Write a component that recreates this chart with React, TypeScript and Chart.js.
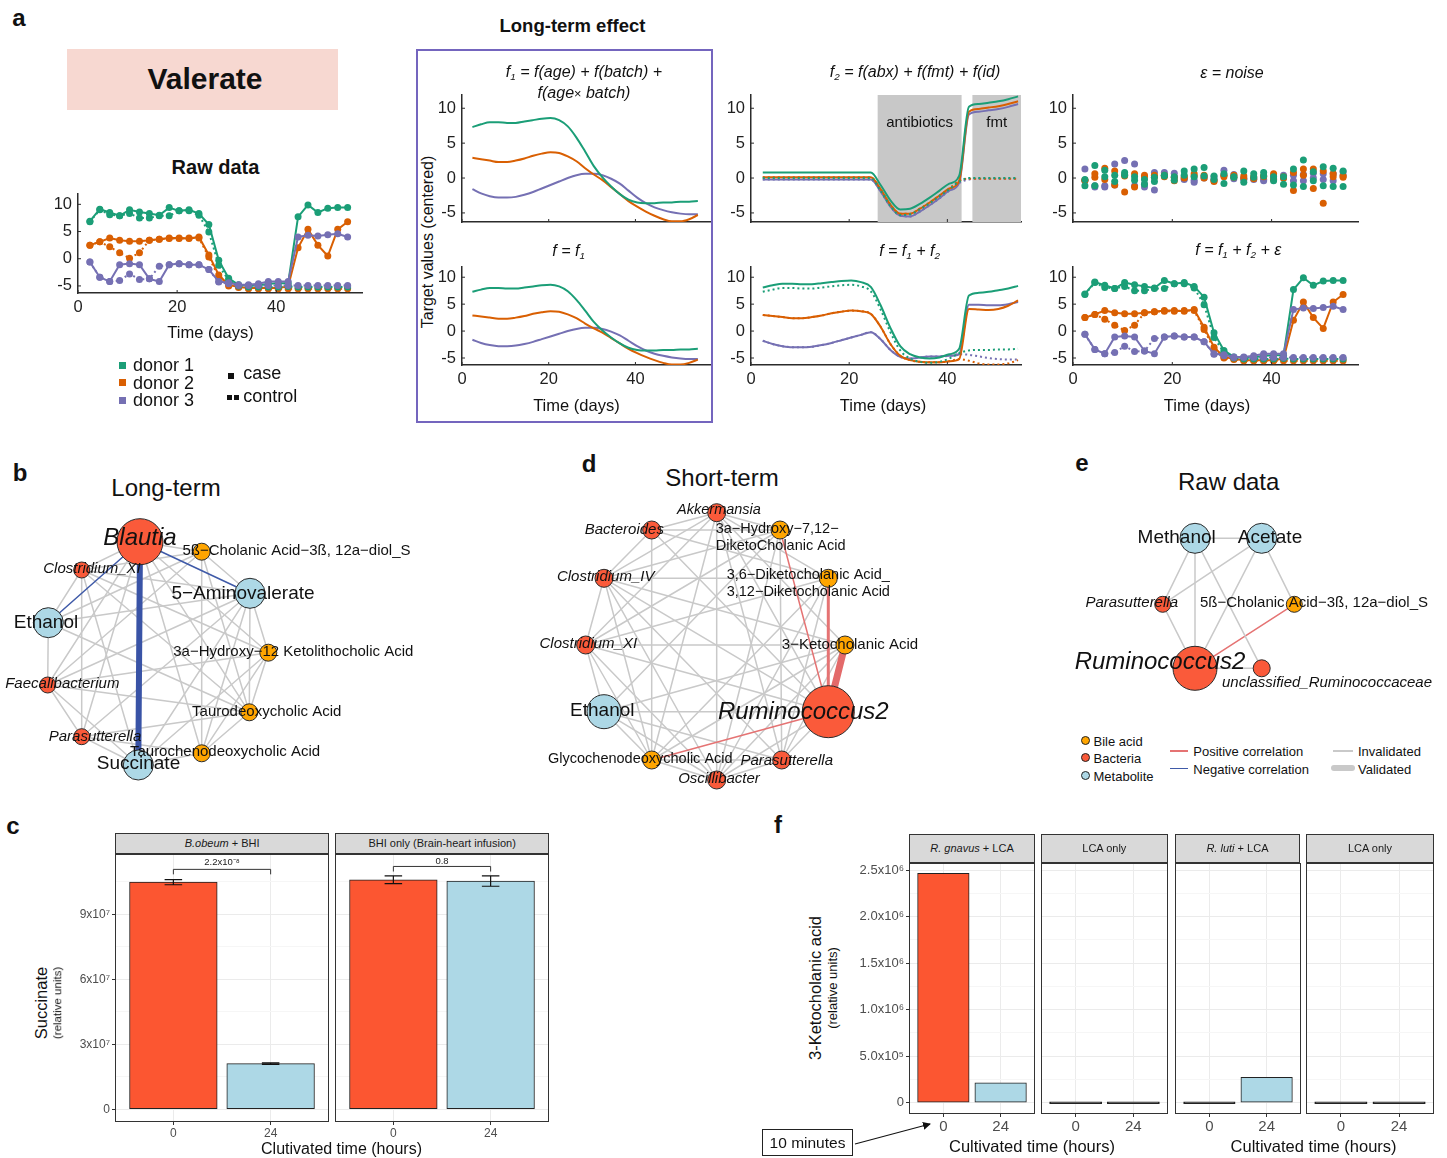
import React, { useEffect, useRef } from "react";
import { Chart, registerables } from "chart.js";

Chart.register(...registerables);

const FONT = "'Liberation Sans', Arial, Helvetica, sans-serif";
Chart.defaults.font.family = FONT;

const GREEN = "#1b9e77";
const ORANGE = "#d95f02";
const PURPLE = "#7570b3";
const DONOR_COLORS = [GREEN, ORANGE, PURPLE];
const BAR_RED = "#fc5631";
const BAR_BLUE = "#add8e6";
const NODE_COLORS: any = { bact: "#fa5a3a", bile: "#ffa500", met: "#add8e6" };
const AXIS_COLOR = "#2b2b2b";
const TICK_COLOR = "#1f1f1f";

// ================= Panel a data =================
const DAYS = [2.4, 4.4, 6.4, 8.4, 10.4, 12.4, 14.4, 16.4, 18.4, 20.4, 22.4, 24.4, 26.4, 28.4, 30.4, 32.4, 34.4, 36.4, 38.4, 40.4, 42.4, 44.4, 46.4, 48.4, 50.4, 52.4, 54.4];
const DAY_TICKS = [0, 20, 40];
const VALUE_TICKS = [-5, 0, 5, 10];
const VALUE_MIN = -6.3;
const VALUE_MAX = 11.9;
const DONORS = ["donor 1", "donor 2", "donor 3"];

// raw data (= f1 + f2 + noise)
const RAW_CASE_1 = [6.9, 9.1, 8.5, 7.9, 9.0, 8.6, 8.3, 8.0, 9.4, 8.8, 9.0, 8.3, 6.3, -0.3, -3.6, -4.8, -4.9, -4.9, -4.6, -4.5, -4.5, 7.7, 9.9, 8.5, 9.3, 9.4, 9.4];
const RAW_CTRL_1 = [6.8, 9.0, 8.1, 7.9, 8.3, 7.5, 7.5, 7.9, 7.9, 8.8, 8.8, 8.0, 4.9, -1.2, -4.0, -5.0, -5.2, -5.2, -5.2, -5.2, -5.1, -5.2, -5.2, -5.2, -5.2, -5.2, -5.2];
const RAW_CASE_2 = [2.5, 3.1, 3.8, 3.4, 3.2, 3.2, 3.4, 3.6, 3.8, 3.8, 3.7, 4.0, 0.7, -3.0, -4.8, -5.2, -5.4, -5.4, -5.4, -5.4, -5.1, 2.0, 5.4, 2.5, 0.5, 5.4, 6.8];
const RAW_CTRL_2 = [2.5, 3.1, 2.2, 1.1, 0.1, 1.1, 3.4, 3.6, 3.7, 3.7, 3.8, 3.8, 0.3, -3.4, -5.0, -5.3, -5.5, -5.5, -5.5, -5.5, -5.5, -5.5, -5.5, -5.5, -5.5, -5.5, -5.5];
const RAW_CASE_3 = [-0.6, -3.4, -4.2, -1.1, -0.9, -1.1, -3.7, -4.2, -1.1, -0.9, -1.1, -1.1, -2.0, -4.2, -4.4, -4.8, -4.8, -4.6, -4.2, -4.2, -4.2, 4.0, 4.3, 4.2, 4.4, 4.6, 4.0];
const RAW_CTRL_3 = [-0.6, -3.4, -4.2, -4.0, -2.8, -3.8, -3.7, -1.4, -1.1, -0.9, -1.1, -1.1, -2.0, -4.3, -4.6, -4.9, -4.9, -4.9, -4.9, -4.9, -4.9, -4.9, -4.9, -4.9, -4.9, -4.9, -4.9];

// f1 = f(age) + f(batch) + f(age x batch)
const F1_1 = [7.3, 7.7, 8.0, 8.0, 7.9, 7.9, 8.1, 8.3, 8.5, 8.6, 8.3, 7.4, 5.8, 3.8, 1.7, 0.1, -1.2, -2.3, -3.1, -3.5, -3.6, -3.6, -3.5, -3.5, -3.4, -3.4, -3.3];
const F1_2 = [2.9, 2.7, 2.5, 2.3, 2.3, 2.5, 2.8, 3.2, 3.5, 3.7, 3.6, 3.1, 2.4, 1.4, 0.5, -0.3, -1.3, -2.3, -3.3, -4.1, -4.8, -5.4, -5.9, -6.2, -6.2, -5.9, -5.3];
const F1_3 = [-1.6, -2.2, -2.6, -2.8, -2.8, -2.7, -2.4, -2.0, -1.5, -1.0, -0.5, 0.0, 0.4, 0.6, 0.6, 0.4, -0.1, -0.8, -1.8, -2.8, -3.6, -4.2, -4.6, -4.9, -5.1, -5.2, -5.2];

// f2 = f(abx) + f(fmt) + f(id)
const F2_CASE_1 = [0.8, 0.8, 0.8, 0.8, 0.8, 0.8, 0.8, 0.8, 0.8, 0.8, 0.8, 0.8, -1.0, -3.2, -4.5, -4.4, -3.7, -2.8, -1.8, -0.8, 0.3, 10.2, 10.6, 10.8, 11.0, 11.3, 11.7];
const F2_CTRL_1 = [0.0, 0.0, 0.0, 0.0, 0.0, 0.0, 0.0, 0.0, 0.0, 0.0, 0.0, 0.0, -1.8, -4.0, -5.3, -5.2, -4.5, -3.6, -2.6, -1.6, -0.5, 0.0, 0.0, 0.0, 0.0, 0.0, 0.0];
const F2_CASE_2 = [0.1, 0.1, 0.1, 0.1, 0.1, 0.1, 0.1, 0.1, 0.1, 0.1, 0.1, 0.1, -1.6, -3.8, -5.1, -5.1, -4.4, -3.5, -2.5, -1.5, -0.4, 9.5, 9.9, 10.1, 10.3, 10.6, 11.0];
const F2_CTRL_2 = [0.1, 0.1, 0.1, 0.1, 0.1, 0.1, 0.1, 0.1, 0.1, 0.1, 0.1, 0.1, -1.6, -3.8, -5.1, -5.1, -4.4, -3.5, -2.5, -1.5, -0.4, -0.1, -0.1, -0.1, -0.1, -0.1, -0.1];
const F2_CASE_3 = [-0.2, -0.2, -0.2, -0.2, -0.2, -0.2, -0.2, -0.2, -0.2, -0.2, -0.2, -0.2, -1.9, -4.1, -5.4, -5.5, -4.8, -3.9, -2.9, -1.8, -0.7, 9.1, 9.5, 9.7, 9.9, 10.2, 10.6];
const F2_CTRL_3 = [-0.2, -0.2, -0.2, -0.2, -0.2, -0.2, -0.2, -0.2, -0.2, -0.2, -0.2, -0.2, -1.9, -4.1, -5.4, -5.5, -4.8, -3.9, -2.9, -1.8, -0.7, -0.2, -0.1, -0.1, -0.1, -0.1, -0.1];
const ANTIBIOTICS_DAYS = [25.8, 42.9];
const FMT_DAYS = [45.1, 55];

// f = f1 + f2
const F12_CASE_1 = [8.1, 8.5, 8.8, 8.8, 8.7, 8.7, 8.9, 9.1, 9.3, 9.4, 9.1, 8.2, 4.8, 0.6, -2.8, -4.3, -4.9, -5.1, -4.9, -4.3, -3.3, 6.6, 7.1, 7.3, 7.6, 7.9, 8.4];
const F12_CTRL_1 = [7.3, 7.7, 8.0, 8.0, 7.9, 7.9, 8.1, 8.3, 8.5, 8.6, 8.3, 7.4, 4.0, -0.2, -3.6, -5.1, -5.7, -5.9, -5.7, -5.1, -4.1, -3.6, -3.5, -3.5, -3.4, -3.4, -3.3];
const F12_CASE_2 = [3.0, 2.8, 2.6, 2.4, 2.4, 2.6, 2.9, 3.3, 3.6, 3.8, 3.7, 3.2, 0.8, -2.4, -4.6, -5.4, -5.7, -5.8, -5.8, -5.6, -5.2, 4.1, 4.0, 3.9, 4.1, 4.7, 5.7];
const F12_CTRL_2 = [3.0, 2.8, 2.6, 2.4, 2.4, 2.6, 2.9, 3.3, 3.6, 3.8, 3.7, 3.2, 0.8, -2.4, -4.6, -5.4, -5.7, -5.8, -5.8, -5.6, -5.2, -5.5, -6.0, -6.2, -6.2, -6.0, -5.4];
const F12_CASE_3 = [-1.8, -2.4, -2.8, -3.0, -3.0, -2.9, -2.6, -2.2, -1.7, -1.2, -0.7, -0.2, -1.5, -3.5, -4.8, -5.1, -4.9, -4.7, -4.7, -4.6, -4.3, 4.9, 4.9, 4.8, 4.8, 5.0, 5.4];
const F12_CTRL_3 = [-1.8, -2.4, -2.8, -3.0, -3.0, -2.9, -2.6, -2.2, -1.7, -1.2, -0.7, -0.2, -1.5, -3.5, -4.8, -5.1, -4.9, -4.7, -4.7, -4.6, -4.3, -4.4, -4.7, -5.0, -5.2, -5.3, -5.3];

// noise
const NOISE_CASE_1 = [-0.2, 1.8, 1.1, 0.4, 0.8, 0.2, -0.2, -0.5, 0.4, 0.2, 1.0, 1.3, 1.5, 0.3, -0.8, 0.1, 1.0, 0.6, 0.8, -0.4, -0.9, 1.3, 2.6, -0.4, 1.6, 1.4, 1.0];
const NOISE_CTRL_1 = [-1.1, -1.1, 0.2, -0.5, 0.4, -0.3, -0.9, 0.1, 0.3, -0.3, 0.4, 0.2, 0.3, -0.2, 0.6, 0.2, -0.6, 0.1, 0.3, 0.2, 0.2, -1.0, -1.2, 0.9, -1.1, -1.2, -1.2];
const NOISE_CASE_2 = [-0.3, 0.6, 1.4, 1.0, 0.3, 0.6, 0.4, 0.4, 0.2, -0.4, 0.0, 0.6, 0.4, -0.5, 0.2, 0.4, 0.3, 0.2, 0.3, 0.6, 0.2, 0.8, 1.3, 1.3, 1.0, 0.6, 0.1];
const NOISE_CTRL_2 = [-0.3, 0.1, -0.2, -1.0, -2.0, -1.3, 0.2, 0.1, 0.4, 0.1, 0.2, 0.3, 0.0, -0.4, 0.4, 0.1, 0.0, -0.1, 0.2, -0.2, 0.0, -1.8, 0.4, -1.5, -3.6, 0.2, 0.3];
const NOISE_CASE_3 = [1.3, -1.1, -1.1, 2.0, 2.5, 2.0, -0.9, 0.8, 0.8, 0.7, -0.1, -0.6, 0.0, 0.2, 1.1, 0.5, -0.1, -0.1, -0.4, 0.3, 0.4, 0.4, 0.5, 0.7, 0.6, -0.4, 0.9];
const NOISE_CTRL_3 = [-0.4, -1.3, -1.3, -1.0, 0.5, -1.1, -1.3, -1.7, 0.4, 0.1, -0.2, -0.3, 0.2, -0.2, 0.4, -0.1, -0.2, -0.2, -0.2, -0.1, 0.0, -0.4, -0.4, 0.0, -0.2, 0.6, 0.4];

// ================= Networks (b, d, e) =================
const B_NAMES = ["Blautia", "5ß−Cholanic Acid−3ß, 12a−diol_S", "Clostridium_XI", "5−Aminovalerate", "Ethanol", "3a−Hydroxy−12 Ketolithocholic Acid", "Faecalibacterium", "Taurodeoxycholic Acid", "Parasutterella", "Taurochenodeoxycholic Acid", "Succinate"];
const B_TYPES = ["bact", "bile", "bact", "met", "met", "bile", "bact", "bile", "bact", "bile", "met"];
const B_EDGES: any[] = [
  [0, 10, "nv"], [0, 4, "n"], [0, 3, "n"],
  [0, 2, "g"], [0, 1, "g"], [0, 5, "g"], [0, 7, "g"], [0, 6, "g"], [0, 8, "g"], [0, 9, "g"],
  [2, 4, "g"], [2, 3, "g"], [2, 5, "g"], [2, 7, "g"], [2, 8, "g"], [2, 10, "g"], [2, 1, "g"],
  [1, 3, "g"], [1, 6, "g"], [1, 7, "g"], [1, 9, "g"], [1, 4, "g"],
  [4, 6, "g"], [4, 3, "g"], [4, 7, "g"],
  [3, 6, "g"], [3, 7, "g"], [3, 5, "g"], [3, 8, "g"], [3, 9, "g"], [3, 10, "g"],
  [5, 6, "g"], [5, 7, "g"], [5, 10, "g"], [5, 9, "g"],
  [6, 8, "g"], [6, 10, "g"], [6, 7, "g"],
  [7, 9, "g"], [7, 8, "g"], [8, 10, "g"], [9, 10, "g"], [8, 9, "g"],
];
// layout: node x, node y, radius, label x, label y, font size, align
const B_LAYOUT: any[] = [
  [140, 541.7, 23, 140, 538, 24], [201.7, 551.7, 8.5, 296.5, 551, 15], [81.7, 570, 8, 92, 569, 15],
  [250, 593.3, 15, 243, 594, 19], [48.3, 622.7, 15, 46, 623, 19], [268.3, 652.7, 8.5, 293.3, 652, 15],
  [47.7, 685, 8, 62.3, 684, 15], [249.3, 712.3, 8.5, 266.7, 712, 15], [81.7, 736.7, 8, 95, 737, 15],
  [201.7, 753.3, 8.5, 225, 752, 15], [138.3, 765, 15, 138.5, 764, 19],
];

const D_NAMES = ["Akkermansia", "Bacteroides", "3a−Hydroxy−7,12−\nDiketoCholanic Acid", "Clostridium_IV", "3,6−Diketocholanic Acid_\n3,12−Diketocholanic Acid", "Clostridium_XI", "3−Ketocholanic Acid", "Ethanol", "Ruminococcus2", "Glycochenodeoxycholic Acid", "Parasutterella", "Oscillibacter"];
const D_TYPES = ["bact", "bact", "bile", "bact", "bile", "bact", "bile", "met", "bact", "bile", "bact", "bact"];
const D_EDGES: any[] = [
  [8, 6, "pv"], [8, 4, "pm"], [8, 2, "p"], [8, 9, "p"],
  [0, 1, "g"], [0, 2, "g"], [0, 3, "g"], [0, 4, "g"], [0, 5, "g"], [0, 8, "g"], [0, 9, "g"], [0, 10, "g"], [0, 11, "g"], [0, 6, "g"],
  [1, 2, "g"], [1, 3, "g"], [1, 4, "g"], [1, 8, "g"], [1, 9, "g"],
  [2, 3, "g"], [2, 5, "g"], [2, 10, "g"], [2, 11, "g"], [2, 7, "g"],
  [3, 4, "g"], [3, 5, "g"], [3, 6, "g"], [3, 8, "g"], [3, 9, "g"], [3, 11, "g"], [3, 10, "g"],
  [4, 5, "g"], [4, 10, "g"], [4, 11, "g"], [4, 9, "g"],
  [5, 6, "g"], [5, 7, "g"], [5, 9, "g"], [5, 8, "g"], [5, 11, "g"],
  [6, 7, "g"], [6, 9, "g"], [6, 10, "g"], [6, 11, "g"],
  [7, 8, "g"], [7, 9, "g"], [7, 11, "g"], [7, 10, "g"],
  [8, 10, "g"], [8, 11, "g"], [9, 11, "g"], [9, 10, "g"], [10, 11, "g"],
];
const D_LAYOUT: any[] = [
  [716.7, 512.7, 9, 719, 510, 14.5], [651.7, 530, 9, 624.3, 530, 15], [780, 530, 9, 715.7, 529, 14.5, "l"],
  [604, 578.3, 9, 605.7, 577, 15], [828.3, 578.3, 9, 726.7, 575, 14.5, "l"], [585.7, 645, 9, 588.3, 644, 15],
  [845, 645, 9, 850, 645, 15], [604, 711.7, 17, 602.3, 711, 19], [828.3, 711.7, 26, 803.3, 712, 24],
  [651.7, 760, 9, 640.3, 759, 14.5], [781.7, 760, 9, 786.7, 761, 15], [716.7, 780, 9, 719, 779, 15],
];

const E_NAMES = ["Methanol", "Acetate", "Parasutterella", "5ß−Cholanic Acid−3ß, 12a−diol_S", "Ruminococcus2", "unclassified_Ruminococcaceae"];
const E_TYPES = ["met", "met", "bact", "bile", "bact", "bact"];
const E_EDGES: any[] = [
  [0, 1, "g"], [0, 2, "g"], [0, 4, "g"], [0, 5, "g"], [1, 2, "g"], [1, 4, "g"], [1, 3, "g"], [2, 4, "g"], [4, 5, "g"], [4, 3, "p"],
];
const E_LAYOUT: any[] = [
  [1195, 538.3, 15, 1176.7, 538, 19], [1261.7, 538.3, 15, 1270, 538, 19], [1162.7, 604.3, 8, 1131.7, 603, 15],
  [1294.3, 604.3, 8, 1314, 603, 15], [1195, 668.3, 22, 1160, 662, 24], [1261.7, 668.3, 8.5, 1327, 683.3, 15],
];

const EDGE_STYLE: any = {
  g: { color: "#c9c9c9", width: 1.5 },
  p: { color: "#e57373", width: 1.5 },
  pm: { color: "#e57373", width: 3 },
  pv: { color: "#e36a6a", width: 7 },
  n: { color: "#3f5aa8", width: 1.5 },
  nv: { color: "#3953a6", width: 6 },
};

// ================= Panel c data =================
const C_TIMES = ["0", "24"];
const C_MEANS = [[1.049e8, 2.11e7], [1.06e8, 1.054e8]];
const C_SE = [[1.2e6, 3.5e5], [1.8e6, 2.4e6]];
const C_P = ["2.2x10⁻⁸", "0.8"];
const C_Y_TICKS = [0, 1.5e7, 3e7, 4.5e7, 6e7, 7.5e7, 9e7, 1.05e8];
const C_Y_LABELS = ["0", "", "3x10⁷", "", "6x10⁷", "", "9x10⁷", ""];

// ================= Panel f data =================
const F_TIMES = ["0", "24"];
const F_MEANS = [[2.467e6, 2.15e5], [0, 0], [0, 2.73e5], [0, 0]];
const F_Y_TICKS = [0, 2.5e5, 5e5, 7.5e5, 1e6, 1.25e6, 1.5e6, 1.75e6, 2e6, 2.25e6, 2.5e6];
const F_Y_LABELS = ["0", "", "5.0x10⁵", "", "1.0x10⁶", "", "1.5x10⁶", "", "2.0x10⁶", "", "2.5x10⁶"];

// ================= helpers =================
const BASE = { animation: false, responsive: false, maintainAspectRatio: false, events: [], devicePixelRatio: 1 };
const NOLEG = { legend: { display: false }, tooltip: { enabled: false } };

function ChartCanvas({ rect, make }: any) {
  const ref = useRef<HTMLCanvasElement | null>(null);
  useEffect(() => {
    if (!ref.current) return;
    const chart = new Chart(ref.current, make());
    return () => chart.destroy();
  }, []);
  return (
    <canvas
      ref={ref}
      width={rect.width}
      height={rect.height}
      style={{ position: "absolute", left: rect.left, top: rect.top, width: rect.width, height: rect.height }}
    />
  );
}

function Txt({ x, y, s, b, i, a = "c", c = "#111", rot, children }: any) {
  const tx = a === "c" ? "-50%" : a === "r" ? "-100%" : "0";
  return (
    <div
      style={{
        position: "absolute", left: x, top: y, fontSize: s, fontWeight: b ? 700 : 400,
        fontStyle: i ? "italic" : "normal", lineHeight: 1, whiteSpace: "nowrap", color: c,
        transform: `translate(${tx},-50%)` + (rot ? ` rotate(${rot}deg)` : ""),
      }}
    >
      {children}
    </div>
  );
}

const Sub = ({ children }: any) => (
  <span style={{ fontSize: "0.62em", verticalAlign: "-0.3em" }}>{children}</span>
);

const inTicksPlugin = {
  id: "inTicks",
  afterDraw(chart: any) {
    const { ctx, chartArea: a, scales } = chart;
    ctx.save();
    ctx.strokeStyle = AXIS_COLOR;
    ctx.lineWidth = 1;
    ctx.beginPath();
    DAY_TICKS.forEach((v) => {
      const px = scales.x.getPixelForValue(v);
      ctx.moveTo(px, a.bottom);
      ctx.lineTo(px, a.bottom - 3);
    });
    VALUE_TICKS.forEach((v) => {
      const py = scales.y.getPixelForValue(v);
      ctx.moveTo(a.left, py);
      ctx.lineTo(a.left + 3, py);
    });
    ctx.stroke();
    ctx.restore();
  },
};

function bandsPlugin(bands: any[] | null) {
  return {
    id: "bands",
    beforeDatasetsDraw(chart: any) {
      if (!bands) return;
      const { ctx, chartArea: a, scales } = chart;
      ctx.save();
      bands.forEach((bd) => {
        const x1 = scales.x.getPixelForValue(bd.range[0]);
        const x2 = scales.x.getPixelForValue(bd.range[1]);
        ctx.fillStyle = "#c8c8c8";
        ctx.fillRect(x1, a.top, x2 - x1, a.bottom - a.top);
        ctx.fillStyle = "#111";
        ctx.font = `15px ${FONT}`;
        ctx.textAlign = "center";
        ctx.textBaseline = "middle";
        ctx.fillText(bd.label, (x1 + x2) / 2, scales.y.getPixelForValue(7.9));
      });
      ctx.restore();
    },
  };
}

const pts = (vals: number[]) => DAYS.map((d, i) => ({ x: d, y: vals[i] }));
const lineSet = (vals: number[], color: string, opt: any = {}) => ({
  data: pts(vals),
  borderColor: color,
  backgroundColor: color,
  borderWidth: 2,
  pointRadius: opt.dots ? 3.5 : 0,
  pointBorderWidth: 0,
  borderDash: opt.dashed ? [2, 3] : [],
  cubicInterpolationMode: opt.smooth ? "monotone" : "default",
  tension: 0,
  fill: false,
});
const dotSet = (vals: number[], color: string) => ({
  data: pts(vals),
  showLine: false,
  backgroundColor: color,
  borderColor: color,
  pointRadius: 3.5,
  pointBorderWidth: 0,
});

const LM = { l: 46, r: 8, t: 20, b: 34 };

function LinePlot({ L, T, R, B, xMax, showX, datasets, bands }: any) {
  const rect = {
    left: Math.round(L - LM.l), top: Math.round(T - LM.t),
    width: Math.round(R - L + LM.l + LM.r), height: Math.round(B - T + LM.t + LM.b),
  };
  const make = () => ({
    type: "line",
    data: { datasets },
    options: {
      ...BASE,
      layout: { autoPadding: false, padding: { left: 0, top: LM.t, right: LM.r, bottom: 0 } },
      plugins: { ...NOLEG },
      scales: {
        x: {
          type: "linear", min: 0, max: xMax, z: 1,
          afterBuildTicks: (s: any) => { s.ticks = DAY_TICKS.map((v) => ({ value: v })); },
          afterFit: (s: any) => { s.height = LM.b; },
          grid: { display: false, drawTicks: false },
          border: { display: true, color: AXIS_COLOR, width: 1.5 },
          ticks: { display: showX, padding: 5, color: TICK_COLOR, font: { family: FONT, size: 16.5 }, maxRotation: 0, autoSkip: false },
        },
        y: {
          type: "linear", min: VALUE_MIN, max: VALUE_MAX, z: 1,
          afterBuildTicks: (s: any) => { s.ticks = VALUE_TICKS.map((v) => ({ value: v })); },
          afterFit: (s: any) => { s.width = LM.l; },
          grid: { display: false, drawTicks: false },
          border: { display: true, color: AXIS_COLOR, width: 1.5 },
          ticks: { padding: 6, color: TICK_COLOR, font: { family: FONT, size: 16.5 }, autoSkip: false },
        },
      },
    },
    plugins: [inTicksPlugin, bandsPlugin(bands || null)],
  });
  return <ChartCanvas rect={rect} make={make} />;
}

function Network({ rect, names, types, edges, layout }: any) {
  const make = () => {
    const nodeSet = {
      type: "line",
      order: 0,
      showLine: false,
      data: layout.map((l: any) => ({ x: l[0], y: l[1] })),
      pointRadius: layout.map((l: any) => l[2]),
      pointBackgroundColor: types.map((t: string) => NODE_COLORS[t]),
      pointBorderColor: "#2a2a2a",
      pointBorderWidth: 1,
      clip: false,
    };
    const edgeSets = edges.map((e: any) => ({
      type: "line",
      order: 1,
      data: [{ x: layout[e[0]][0], y: layout[e[0]][1] }, { x: layout[e[1]][0], y: layout[e[1]][1] }],
      borderColor: EDGE_STYLE[e[2]].color,
      borderWidth: EDGE_STYLE[e[2]].width,
      pointRadius: 0,
      borderCapStyle: "round",
      clip: false,
    }));
    const labelPlugin = {
      id: "netLabels",
      afterDatasetsDraw(chart: any) {
        const { ctx, scales } = chart;
        ctx.save();
        ctx.fillStyle = "#111";
        ctx.textBaseline = "middle";
        names.forEach((name: string, i: number) => {
          const l = layout[i];
          ctx.font = `${types[i] === "bact" ? "italic " : ""}${l[5]}px ${FONT}`;
          ctx.textAlign = l[6] === "l" ? "left" : "center";
          name.split("\n").forEach((line, k) => {
            ctx.fillText(line, scales.x.getPixelForValue(l[3]), scales.y.getPixelForValue(l[4]) + k * 16.7);
          });
        });
        ctx.restore();
      },
    };
    return {
      type: "line",
      data: { datasets: [nodeSet, ...edgeSets] },
      options: {
        ...BASE,
        layout: { autoPadding: false, padding: 0 },
        plugins: { ...NOLEG },
        scales: {
          x: { type: "linear", display: false, min: rect.left, max: rect.left + rect.width },
          y: { type: "linear", display: false, min: rect.top, max: rect.top + rect.height, reverse: true },
        },
      },
      plugins: [labelPlugin],
    };
  };
  return <ChartCanvas rect={rect} make={make} />;
}

function BarFacet({ L, T, R, B, yMin, yMax, means, errors, times, yTicks, yLabels, showY, xFont, yFont, bracket, ml, mb }: any) {
  const MT = 16, MR = 3;
  const rect = {
    left: Math.round(L - ml), top: Math.round(T - MT),
    width: Math.round(R - L + ml + MR), height: Math.round(B - T + MT + mb),
  };
  const pxPerUnit = (R - L) / 2.2;
  const fills = [BAR_RED, BAR_BLUE];
  const make = () => {
    const framePlugin = {
      id: "frame",
      afterDraw(chart: any) {
        const { ctx, chartArea: a } = chart;
        ctx.save();
        ctx.strokeStyle = "#333";
        ctx.lineWidth = 1;
        ctx.strokeRect(a.left + 0.5, a.top + 0.5, a.right - a.left - 1, a.bottom - a.top - 1);
        ctx.restore();
      },
    };
    const errPlugin = {
      id: "errBars",
      afterDatasetsDraw(chart: any) {
        if (!errors) return;
        const { ctx, scales } = chart;
        const half = scales.x.getPixelForValue(1.09) - scales.x.getPixelForValue(1);
        ctx.save();
        ctx.strokeStyle = "#111";
        ctx.lineWidth = 1.2;
        means.forEach((v: number, i: number) => {
          const px = scales.x.getPixelForValue(i + 1);
          const y1 = scales.y.getPixelForValue(v + errors[i]);
          const y2 = scales.y.getPixelForValue(v - errors[i]);
          ctx.beginPath();
          ctx.moveTo(px, y1); ctx.lineTo(px, y2);
          ctx.moveTo(px - half, y1); ctx.lineTo(px + half, y1);
          ctx.moveTo(px - half, y2); ctx.lineTo(px + half, y2);
          ctx.stroke();
        });
        ctx.restore();
      },
    };
    const bracketPlugin = {
      id: "bracket",
      afterDatasetsDraw(chart: any) {
        if (!bracket) return;
        const { ctx, scales } = chart;
        const x1 = scales.x.getPixelForValue(1), x2 = scales.x.getPixelForValue(2);
        const yl = scales.y.getPixelForValue(bracket.line), yd = scales.y.getPixelForValue(bracket.drop);
        ctx.save();
        ctx.strokeStyle = "#333";
        ctx.lineWidth = 1;
        ctx.beginPath();
        ctx.moveTo(x1, yd); ctx.lineTo(x1, yl); ctx.lineTo(x2, yl); ctx.lineTo(x2, yd);
        ctx.stroke();
        ctx.fillStyle = "#222";
        ctx.font = `9.5px ${FONT}`;
        ctx.textAlign = "center";
        ctx.textBaseline = "middle";
        ctx.fillText(bracket.label, (x1 + x2) / 2, scales.y.getPixelForValue(bracket.text));
        ctx.restore();
      },
    };
    return {
      type: "bar",
      data: {
        datasets: [{
          data: means.map((v: number, i: number) => ({ x: i + 1, y: v })),
          backgroundColor: means.map((v: number, i: number) => (v === 0 ? "#333" : fills[i])),
          borderColor: "#222",
          borderWidth: 1,
          borderSkipped: false,
          barThickness: pxPerUnit * 0.9,
          minBarLength: 2,
        }],
      },
      options: {
        ...BASE,
        layout: { autoPadding: false, padding: { left: 0, top: MT, right: MR, bottom: 0 } },
        plugins: { ...NOLEG },
        scales: {
          x: {
            type: "linear", min: 0.4, max: 2.6, offset: false,
            afterBuildTicks: (s: any) => { s.ticks = [{ value: 1 }, { value: 2 }]; },
            afterFit: (s: any) => { s.height = mb; },
            grid: { offset: false, color: "#ebebeb", lineWidth: 1, tickColor: "#333", tickLength: 3, drawTicks: true },
            border: { display: false },
            ticks: { callback: (_v: any, i: number) => times[i], color: "#4d4d4d", font: { family: FONT, size: xFont }, padding: 1, maxRotation: 0, autoSkip: false },
          },
          y: {
            type: "linear", min: yMin, max: yMax,
            afterBuildTicks: (s: any) => { s.ticks = yTicks.map((v: number) => ({ value: v })); },
            afterFit: (s: any) => { s.width = ml; },
            grid: {
              color: (c: any) => (yLabels[c.index] ? "#ebebeb" : "#f6f6f6"),
              tickColor: (c: any) => (yLabels[c.index] ? "#333" : "rgba(0,0,0,0)"),
              tickLength: 3,
              drawTicks: showY,
            },
            border: { display: false },
            ticks: { display: showY, callback: (_v: any, i: number) => yLabels[i], color: "#4d4d4d", font: { family: FONT, size: yFont }, padding: 2, autoSkip: false },
          },
        },
      },
      plugins: [errPlugin, bracketPlugin, framePlugin],
    };
  };
  return <ChartCanvas rect={rect} make={make} />;
}

function Strip({ L, R, T, B, children }: any) {
  return (
    <div
      style={{
        position: "absolute", left: L, top: T, width: R - L, height: B - T, boxSizing: "border-box",
        background: "#d9d9d9", border: "1px solid #333", display: "flex", alignItems: "center",
        justifyContent: "center", fontSize: 11, color: "#1a1a1a", whiteSpace: "nowrap",
      }}
    >
      {children}
    </div>
  );
}

// ================= layout constants =================
const RAW_AREA = { L: 78, R: 361.7, T: 194.3, B: 293.3, xMax: 57.3 };
const COLS = [
  { L: 462, R: 710.4, xMax: 57.2 },
  { L: 751, R: 1020.7, xMax: 55 },
  { L: 1073.3, R: 1358, xMax: 57.4 },
];
const ROWS = [{ T: 95, B: 222.3 }, { T: 266.7, B: 365 }];
const C_FACETS = [{ L: 115, R: 329.3 }, { L: 335, R: 549.3 }];
const C_BRACKETS = [{ line: 1.108e8, drop: 1.085e8, text: 1.14e8 }, { line: 1.1215e8, drop: 1.098e8, text: 1.147e8 }];
const F_FACETS = [{ L: 909, R: 1035 }, { L: 1040.7, R: 1168 }, { L: 1174.5, R: 1300.4 }, { L: 1306, R: 1434 }];

function rawSets() {
  const cases = [RAW_CASE_1, RAW_CASE_2, RAW_CASE_3];
  const ctrls = [RAW_CTRL_1, RAW_CTRL_2, RAW_CTRL_3];
  const out: any[] = [];
  [2, 0, 1].forEach((k) => {
    out.push(lineSet(cases[k], DONOR_COLORS[k], { dots: true }));
    out.push(lineSet(ctrls[k], DONOR_COLORS[k], { dots: true, dashed: true }));
  });
  return out;
}
const f1Sets = () => [F1_1, F1_2, F1_3].map((v, k) => lineSet(v, DONOR_COLORS[k], { smooth: true }));
function pairSets(cases: number[][], ctrls: number[][]) {
  const out: any[] = [];
  [0, 1, 2].forEach((k) => {
    out.push(lineSet(cases[k], DONOR_COLORS[k], { smooth: true }));
    out.push(lineSet(ctrls[k], DONOR_COLORS[k], { smooth: true, dashed: true }));
  });
  return out;
}
function noiseSets() {
  const out: any[] = [];
  const cases = [NOISE_CASE_1, NOISE_CASE_2, NOISE_CASE_3];
  const ctrls = [NOISE_CTRL_1, NOISE_CTRL_2, NOISE_CTRL_3];
  [0, 1, 2].forEach((k) => {
    out.push(dotSet(cases[k], DONOR_COLORS[k]));
    out.push(dotSet(ctrls[k], DONOR_COLORS[k]));
  });
  return out;
}

export default function App() {
  return (
    <div
      style={{
        position: "fixed", left: 0, top: 0, width: 1447, height: 1158, background: "#fff",
        overflow: "hidden", fontFamily: FONT, color: "#111",
      }}
    >
      {/* ---------- panel a ---------- */}
      <Txt x={19} y={18} s={24} b>a</Txt>
      <div style={{ position: "absolute", left: 67, top: 49, width: 271, height: 61, background: "#f7d8d1" }} />
      <Txt x={205} y={79} s={30} b>Valerate</Txt>
      <Txt x={215.5} y={167} s={20} b>Raw data</Txt>
      <LinePlot {...RAW_AREA} showX datasets={rawSets()} />
      <Txt x={210.5} y={332} s={16.5}>Time (days)</Txt>
      {DONORS.map((d, k) => (
        <React.Fragment key={d}>
          <div style={{ position: "absolute", left: 119, top: 361.5 + k * 17.7, width: 7, height: 7, background: DONOR_COLORS[k] }} />
          <Txt x={133} y={365 + k * 17.7} s={18} a="l">{d}</Txt>
        </React.Fragment>
      ))}
      <div style={{ position: "absolute", left: 228, top: 372.5, width: 6, height: 6, background: "#111" }} />
      <Txt x={243.3} y={373.3} s={18} a="l">case</Txt>
      <div style={{ position: "absolute", left: 227, top: 394.5, width: 4.5, height: 5, background: "#111" }} />
      <div style={{ position: "absolute", left: 234, top: 394.5, width: 4.5, height: 5, background: "#111" }} />
      <Txt x={243.3} y={396} s={18} a="l">control</Txt>

      <Txt x={572.5} y={26} s={18.5} b>Long-term effect</Txt>
      <div style={{ position: "absolute", left: 416, top: 49, width: 297, height: 374, boxSizing: "border-box", border: "2px solid #7465be" }} />
      <Txt x={428} y={242.4} s={16} rot={-90}>Target values (centered)</Txt>

      <LinePlot {...COLS[0]} {...ROWS[0]} showX={false} datasets={f1Sets()} />
      <LinePlot {...COLS[0]} {...ROWS[1]} showX datasets={f1Sets()} />
      <LinePlot
        {...COLS[1]} {...ROWS[0]} showX={false}
        datasets={pairSets([F2_CASE_1, F2_CASE_2, F2_CASE_3], [F2_CTRL_1, F2_CTRL_2, F2_CTRL_3])}
        bands={[{ range: ANTIBIOTICS_DAYS, label: "antibiotics" }, { range: FMT_DAYS, label: "fmt" }]}
      />
      <LinePlot {...COLS[1]} {...ROWS[1]} showX datasets={pairSets([F12_CASE_1, F12_CASE_2, F12_CASE_3], [F12_CTRL_1, F12_CTRL_2, F12_CTRL_3])} />
      <LinePlot {...COLS[2]} {...ROWS[0]} showX={false} datasets={noiseSets()} />
      <LinePlot {...COLS[2]} {...ROWS[1]} showX datasets={rawSets()} />

      <Txt x={584} y={73.3} s={16} i>f<Sub>1</Sub> = f(age) + f(batch) +</Txt>
      <Txt x={584} y={93.3} s={16} i>f(age<span style={{ fontStyle: "normal", fontSize: "0.8em" }}>×</span> batch)</Txt>
      <Txt x={915} y={73.3} s={16} i>f<Sub>2</Sub> = f(abx) + f(fmt) + f(id)</Txt>
      <Txt x={1232} y={73.3} s={16} i>ε = noise</Txt>
      <Txt x={568.7} y={251.7} s={16} i>f = f<Sub>1</Sub></Txt>
      <Txt x={909.6} y={251.7} s={16} i>f = f<Sub>1</Sub> + f<Sub>2</Sub></Txt>
      <Txt x={1238.3} y={250.5} s={16} i>f = f<Sub>1</Sub> + f<Sub>2</Sub> + ε</Txt>
      <Txt x={576.4} y={405} s={16.5}>Time (days)</Txt>
      <Txt x={883} y={405} s={16.5}>Time (days)</Txt>
      <Txt x={1207} y={405} s={16.5}>Time (days)</Txt>

      {/* ---------- panel b ---------- */}
      <Txt x={20} y={472.5} s={24} b>b</Txt>
      <Txt x={166} y={488} s={24}>Long-term</Txt>
      <Network rect={{ left: 0, top: 500, width: 430, height: 290 }} names={B_NAMES} types={B_TYPES} edges={B_EDGES} layout={B_LAYOUT} />

      {/* ---------- panel d ---------- */}
      <Txt x={589} y={464} s={24} b>d</Txt>
      <Txt x={722} y={478} s={24}>Short-term</Txt>
      <Network rect={{ left: 530, top: 490, width: 400, height: 310 }} names={D_NAMES} types={D_TYPES} edges={D_EDGES} layout={D_LAYOUT} />

      {/* ---------- panel e ---------- */}
      <Txt x={1082} y={463} s={24} b>e</Txt>
      <Txt x={1228.7} y={482} s={24}>Raw data</Txt>
      <Network rect={{ left: 1060, top: 500, width: 387, height: 200 }} names={E_NAMES} types={E_TYPES} edges={E_EDGES} layout={E_LAYOUT} />
      {[["bile", "Bile acid"], ["bact", "Bacteria"], ["met", "Metabolite"]].map(([t, lab], k) => (
        <React.Fragment key={t}>
          <div style={{ position: "absolute", left: 1080.5, top: 735.5 + k * 17.8, width: 9, height: 9, boxSizing: "border-box", borderRadius: "50%", background: NODE_COLORS[t], border: "1px solid #222" }} />
          <Txt x={1093.5} y={740.5 + k * 17.8} s={13} a="l">{lab}</Txt>
        </React.Fragment>
      ))}
      <div style={{ position: "absolute", left: 1170, top: 750, width: 18, height: 1.5, background: "#e57373" }} />
      <Txt x={1193.3} y={751} s={13} a="l">Positive correlation</Txt>
      <div style={{ position: "absolute", left: 1170, top: 767.5, width: 18, height: 1.5, background: "#3f5aa8" }} />
      <Txt x={1193.3} y={768.5} s={13} a="l">Negative correlation</Txt>
      <div style={{ position: "absolute", left: 1333, top: 750, width: 20, height: 1.5, background: "#c9c9c9" }} />
      <Txt x={1358} y={751} s={13} a="l">Invalidated</Txt>
      <div style={{ position: "absolute", left: 1331, top: 765, width: 24, height: 6, borderRadius: 3, background: "#c9c9c9" }} />
      <Txt x={1358} y={768.5} s={13} a="l">Validated</Txt>

      {/* ---------- panel c ---------- */}
      <Txt x={13} y={826} s={24} b>c</Txt>
      {C_FACETS.map((f, k) => (
        <BarFacet
          key={"c" + k} L={f.L} R={f.R} T={854} B={1121.7} yMin={-5.87e6} yMax={1.179e8}
          means={C_MEANS[k]} errors={C_SE[k]} times={C_TIMES} yTicks={C_Y_TICKS} yLabels={C_Y_LABELS}
          showY={k === 0} xFont={12} yFont={12}
          bracket={{ ...C_BRACKETS[k], label: C_P[k] }} ml={k === 0 ? 60 : 3} mb={22}
        />
      ))}
      <Strip L={C_FACETS[0].L} R={C_FACETS[0].R} T={832.7} B={854}><i>B.obeum</i>&nbsp;+ BHI</Strip>
      <Strip L={C_FACETS[1].L} R={C_FACETS[1].R} T={832.7} B={854}>BHI only (Brain-heart infusion)</Strip>
      <Txt x={41} y={1003} s={16.5} rot={-90}>Succinate</Txt>
      <Txt x={58} y={1003} s={11.5} rot={-90}>(relative units)</Txt>
      <Txt x={341.5} y={1149} s={16}>Clutivated time (hours)</Txt>

      {/* ---------- panel f ---------- */}
      <Txt x={778} y={825} s={24} b>f</Txt>
      {F_FACETS.map((f, k) => (
        <BarFacet
          key={"f" + k} L={f.L} R={f.R} T={862.7} B={1114} yMin={-1.214e5} yMax={2.578e6}
          means={F_MEANS[k]} errors={null} times={F_TIMES} yTicks={F_Y_TICKS} yLabels={F_Y_LABELS}
          showY={k === 0} xFont={15} yFont={13} bracket={null} ml={k === 0 ? 62 : 3} mb={24}
        />
      ))}
      <Strip L={F_FACETS[0].L} R={F_FACETS[0].R} T={834} B={862.7}><i>R. gnavus</i>&nbsp;+ LCA</Strip>
      <Strip L={F_FACETS[1].L} R={F_FACETS[1].R} T={834} B={862.7}>LCA only</Strip>
      <Strip L={F_FACETS[2].L} R={F_FACETS[2].R} T={834} B={862.7}><i>R. luti</i>&nbsp;+ LCA</Strip>
      <Strip L={F_FACETS[3].L} R={F_FACETS[3].R} T={834} B={862.7}>LCA only</Strip>
      <Txt x={815} y={988} s={16.5} rot={-90}>3-Ketocholanic acid</Txt>
      <Txt x={832.4} y={988} s={13} rot={-90}>(relative units)</Txt>
      <Txt x={1032} y={1146} s={16.5}>Cultivated time (hours)</Txt>
      <Txt x={1313.6} y={1146} s={16.5}>Cultivated time (hours)</Txt>
      <div
        style={{
          position: "absolute", left: 762, top: 1129, width: 91, height: 27, boxSizing: "border-box",
          border: "1px solid #222", display: "flex", alignItems: "center", justifyContent: "center", fontSize: 15.5,
        }}
      >
        10 minutes
      </div>
      <svg width={1447} height={1158} style={{ position: "absolute", left: 0, top: 0, pointerEvents: "none" }}>
        <defs>
          <marker id="ah" markerWidth="8" markerHeight="8" refX="7" refY="4" orient="auto" markerUnits="userSpaceOnUse">
            <path d="M0,0 L8,4 L0,8 z" fill="#111" />
          </marker>
        </defs>
        <line x1={855} y1={1144} x2={930} y2={1124} stroke="#111" strokeWidth={1.2} markerEnd="url(#ah)" />
      </svg>
    </div>
  );
}
